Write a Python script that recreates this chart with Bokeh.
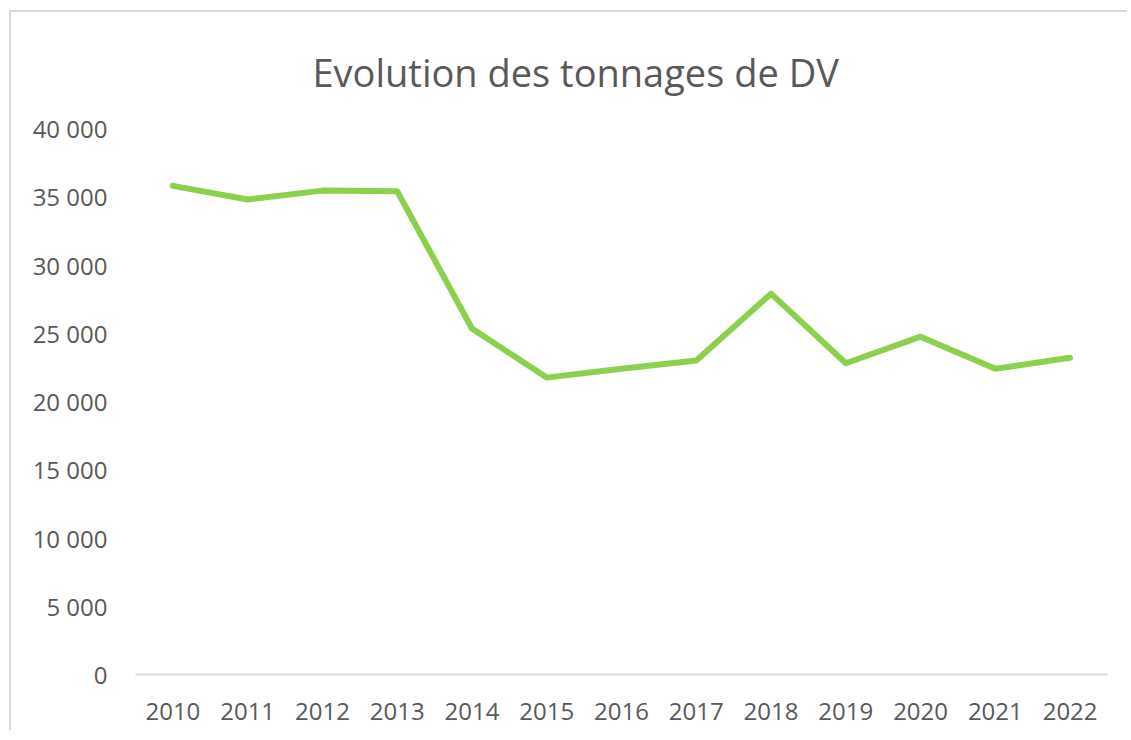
from bokeh.plotting import figure
from bokeh.models import FactorRange, Range1d, FixedTicker
from bokeh.embed import file_html
from bokeh.resources import INLINE

years = ["2010", "2011", "2012", "2013", "2014", "2015", "2016",
         "2017", "2018", "2019", "2020", "2021", "2022"]
tonnages = [35800, 34800, 35450, 35400, 25350, 21750, 22400,
            23000, 27900, 22800, 24750, 22400, 23200]
y_ticks = [0, 5000, 10000, 15000, 20000, 25000, 30000, 35000, 40000]
y_tick_labels = ["0", "5 000", "10 000", "15 000", "20 000", "25 000",
                 "30 000", "35 000", "40 000"]

FONT = "Open Sans"
GREY = "#595959"

p = figure(width=1118, height=720, x_range=FactorRange(*years),
           y_range=Range1d(0, 40000), output_backend="svg",
           toolbar_location=None, title="Evolution des tonnages de DV",
           min_border_left=124, min_border_right=22,
           min_border_top=116, min_border_bottom=58)

p.line(years, tonnages, line_color="#8DD04D", line_width=6,
       line_join="round", line_cap="round")

p.title.align = "left"
p.title.offset = 177
p.title.standoff = 60
p.title.vertical_align = "middle"
p.title.text_font = FONT
p.title.text_font_size = "38px"
p.title.text_font_style = "normal"
p.title.text_color = GREY

p.outline_line_color = None
p.xgrid.grid_line_color = None
p.ygrid.grid_line_color = None
p.background_fill_color = "white"
p.border_fill_color = "white"

p.yaxis.ticker = FixedTicker(ticks=y_ticks)
p.yaxis.major_label_overrides = {t: l for t, l in zip(y_ticks, y_tick_labels)}
p.yaxis.axis_line_color = None
p.yaxis.major_tick_line_color = None
p.yaxis.minor_tick_line_color = None
p.yaxis.major_label_standoff = 22
p.yaxis.major_label_text_font = FONT
p.yaxis.major_label_text_font_size = "24px"
p.yaxis.major_label_text_color = GREY

p.xaxis.axis_line_color = "#D9D9D9"
p.xaxis.axis_line_width = 2
p.xaxis.major_tick_line_color = None
p.xaxis.minor_tick_line_color = None
p.xaxis.major_label_standoff = 22
p.xaxis.major_label_text_font = FONT
p.xaxis.major_label_text_font_size = "24px"
p.xaxis.major_label_text_color = GREY

p.styles = {"border-top": "2px solid #D9D9D9", "border-left": "2px solid #D9D9D9",
            "margin-left": "9px", "margin-top": "10px"}

open("out.html", "w").write(file_html(p, INLINE))
